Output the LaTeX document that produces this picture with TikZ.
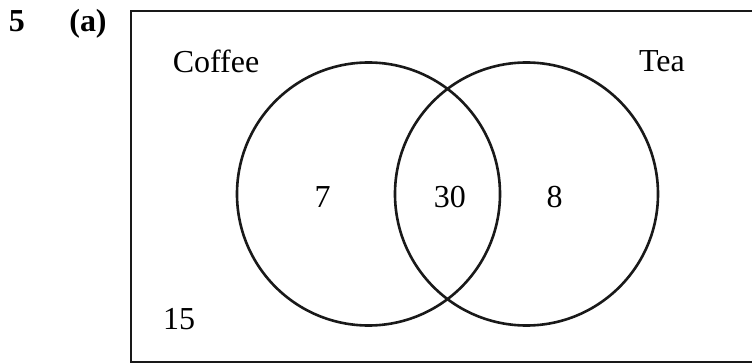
\documentclass[tikz,border=0pt]{standalone}
\usepackage{fontspec}
\setmainfont{Liberation Serif}
\begin{document}
\begin{tikzpicture}[x=0.5pt,y=-0.5pt,
  outline/.style={line width=1.3pt, black!90},
  lbl/.style={anchor=base, inner sep=0pt, font=\fontsize{16}{19}\selectfont},
  qlbl/.style={anchor=base, inner sep=0pt, font=\fontsize{16}{19}\selectfont\bfseries}]
\useasboundingbox (0,0) rectangle (752,363);

% question number and part
\node[qlbl] (qnum)  at (17,32)  {5};
\node[qlbl] (qpart) at (88,32)  {(a)};

% universal set
\draw[outline] (131,11) rectangle (780,362);

% the two sets
\coordinate (cc) at (368.5,194);
\coordinate (tc) at (526.5,194);
\draw[outline] (cc) circle[radius=65.75pt];
\draw[outline] (tc) circle[radius=65.75pt];

% set names
\node[lbl] (coffee) at (216,73) {Coffee};
\node[lbl] (tea)    at (662,72) {Tea};

% region counts
\node[lbl] (onlyc) at (322.5,208) {7};
\node[lbl] (both)  at (450,208)   {30};
\node[lbl] (onlyt) at (554.5,208) {8};
\node[lbl] (none)  at (179,330)   {15};
\end{tikzpicture}
\end{document}
